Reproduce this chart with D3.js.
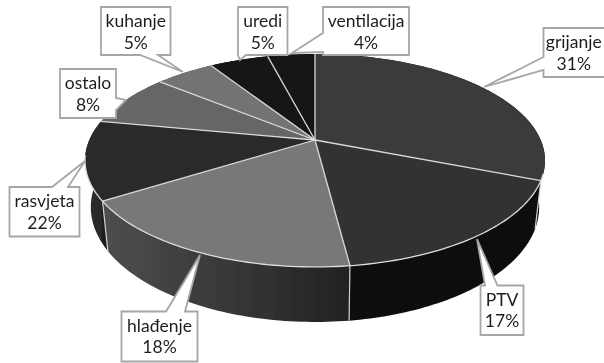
<!DOCTYPE html>
<html>
<head>
<meta charset="utf-8">
<script src="https://cdn.jsdelivr.net/npm/d3@7"></script>
<style>
html, body { margin: 0; padding: 0; background: #fff; overflow: hidden; }
svg { display: block; }
text { font-family: Lato, "Open Sans", sans-serif; font-size: 17.5px; fill: #1f1f1f; text-anchor: middle; }
</style>
</head>
<body>
<div id="figure"></div>
<script>
var names = ["grijanje", "PTV", "hlađenje", "rasvjeta", "ostalo", "kuhanje", "uredi", "ventilacija"];
// share of the pie as drawn
var values = [31, 17, 18, 12, 8, 5, 5, 4];
// printed labels (they add up to 110, rasvjeta is drawn smaller than its label)
var labels = ["31%", "17%", "18%", "22%", "8%", "5%", "5%", "4%"];

var topColors = ["#3a3a3a", "#333333", "#787878", "#2b2b2b", "#666666", "#737373", "#151515", "#161616"];
var wallLeft = ["#0e0e0e", "#0b0b0b", "#4e4e4e", "#2a2a2a", "#444", "#444", "#111", "#111"];
var wallRight = ["#0c0c0c", "#0b0b0b", "#222222", "#1c1c1c", "#444", "#444", "#111", "#111"];

// callout boxes: [x0, y0, x1, y1], then the pointer base and tip
var boxes = [
  {box: [543.5, 28, 606, 77], side: "left", a: 57, b: 70, tip: [484, 87]},
  {box: [480.5, 285.5, 523.5, 335], side: "top", a: 485, b: 497.5, tip: [477, 239]},
  {box: [121.5, 311.5, 197.5, 361.5], side: "top", a: 166, b: 185, tip: [200, 255]},
  {box: [9.5, 187, 79.5, 236.5], side: "top", a: 52, b: 68, tip: [85, 161]},
  {box: [60, 69, 116, 118], side: "right", a: 98, b: 110, tip: [126, 100]},
  {box: [101, 7, 170.5, 55], side: "bottom", a: 140, b: 158, tip: [183, 72]},
  {box: [238, 7, 287.5, 55], side: "bottom", a: 238, b: 246, tip: [240, 60]},
  {box: [323, 7, 409, 55], side: "left", a: 33, b: 52, tip: [292, 53]}
];

var width = 604, height = 363;
var cx = 315, cy = 140, rx = 225.7, ry = 102.5, persp = 0.1925;
var lowCy = 185, lowRx = 220, lowRy = 110.6;

var svg = d3.select("#figure").append("svg")
  .attr("width", width)
  .attr("height", height)
  .attr("viewBox", "0 0 604 363");

var defs = svg.append("defs");
defs.append("filter").attr("id", "soft")
  .append("feGaussianBlur").attr("stdDeviation", 0.45);

var chart = svg.append("g").attr("filter", "url(#soft)");

// angle on the disc -> screen point, perspective squeezes the back half
function project(a, y0, rX, rY) {
  var u = Math.sin(a), v = -Math.cos(a), w = 1 - persp * v;
  return [cx + rX * u / w, y0 + rY * v / w];
}
function upper(a) { return project(a, cy, rx, ry); }
function lower(a) { return project(a, lowCy, lowRx, lowRy); }

function samples(a0, a1) {
  var n = Math.max(2, Math.ceil((a1 - a0) / 0.02));
  return d3.range(n + 1).map(function (i) { return a0 + (a1 - a0) * i / n; });
}

var pie = d3.pie().sort(null).value(function (d) { return d; });
var arcs = pie(values);
var line = d3.line();

// walls first, the top of the pie covers the back ones
arcs.forEach(function (d, i) {
  var xs = [upper(d.startAngle)[0], upper(d.endAngle)[0]];
  var grad = defs.append("linearGradient")
    .attr("id", "wall" + i)
    .attr("gradientUnits", "userSpaceOnUse")
    .attr("x1", d3.min(xs))
    .attr("x2", d3.max(xs))
    .attr("y1", 0).attr("y2", 0);
  grad.append("stop").attr("offset", "0%").attr("stop-color", wallLeft[i]);
  grad.append("stop").attr("offset", "100%").attr("stop-color", wallRight[i]);

  var s = samples(d.startAngle, d.endAngle);
  var pts = s.map(upper).concat(s.slice().reverse().map(lower));
  chart.append("path")
    .attr("d", line(pts) + "Z")
    .attr("fill", "url(#wall" + i + ")");
});

// wall seams on the front side
arcs.slice(0, 3).forEach(function (d) {
  chart.append("path")
    .attr("d", line([upper(d.endAngle), lower(d.endAngle)]))
    .attr("stroke", "#d0d0d0")
    .attr("stroke-width", 1.2)
    .attr("fill", "none");
});

// top slices
arcs.forEach(function (d, i) {
  var pts = [[cx, cy]].concat(samples(d.startAngle, d.endAngle).map(upper));
  chart.append("path")
    .attr("d", line(pts) + "Z")
    .attr("fill", topColors[i]);
});

// spokes
arcs.forEach(function (d) {
  chart.append("path")
    .attr("d", line([[cx, cy], upper(d.startAngle)]))
    .attr("stroke", "#d9d9d9")
    .attr("stroke-width", 1.3)
    .attr("fill", "none");
});

// light rim only where the top meets the wall
chart.append("path")
  .attr("d", line(samples(arcs[0].endAngle - 0.06, arcs[3].startAngle + 0.42).map(upper)))
  .attr("stroke", "#dcdcdc")
  .attr("stroke-width", 1.3)
  .attr("fill", "none");

// callouts
function calloutPath(c) {
  var x0 = c.box[0], y0 = c.box[1], x1 = c.box[2], y1 = c.box[3], p;
  if (c.side == "top") p = [[x0, y0], [c.a, y0], c.tip, [c.b, y0], [x1, y0], [x1, y1], [x0, y1]];
  if (c.side == "bottom") p = [[x0, y0], [x1, y0], [x1, y1], [c.b, y1], c.tip, [c.a, y1], [x0, y1]];
  if (c.side == "left") p = [[x0, y0], [x1, y0], [x1, y1], [x0, y1], [x0, c.b], c.tip, [x0, c.a]];
  if (c.side == "right") p = [[x0, y0], [x1, y0], [x1, c.a], c.tip, [x1, c.b], [x1, y1], [x0, y1]];
  return line(p) + "Z";
}

var callouts = chart.selectAll("g.callout")
  .data(boxes)
  .enter().append("g")
  .attr("class", "callout");

callouts.append("path")
  .attr("d", calloutPath)
  .attr("fill", "#fff")
  .attr("stroke", "#a6a6a6")
  .attr("stroke-width", 1.8);

callouts.append("text")
  .attr("x", function (d) { return (d.box[0] + Math.min(d.box[2], 604)) / 2; })
  .attr("y", function (d) { return d.box[1] + 20; })
  .text(function (d, i) { return names[i]; });

callouts.append("text")
  .attr("x", function (d) { return (d.box[0] + Math.min(d.box[2], 604)) / 2; })
  .attr("y", function (d) { return d.box[1] + 41.5; })
  .text(function (d, i) { return labels[i]; });
</script>
</body>
</html>
